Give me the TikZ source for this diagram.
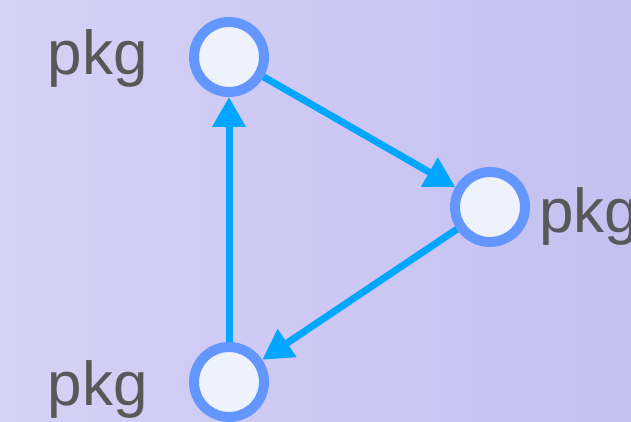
\documentclass[tikz,border=0pt]{standalone}
\usepackage{fontspec}
\setmainfont{Liberation Sans}
\definecolor{bg-light}{RGB}{214,209,246}
\definecolor{bg-dark}{RGB}{196,192,240}
\definecolor{ring-blue}{RGB}{100,150,255}
\definecolor{pale-fill}{RGB}{238,242,252}
\definecolor{flow-blue}{RGB}{0,166,255}
\definecolor{label-grey}{RGB}{88,88,88}
\usetikzlibrary{arrows.meta,positioning}

\begin{document}
\begin{tikzpicture}[x=1pt,y=-1pt,
    pkgnode/.style={circle,draw=ring-blue,fill=pale-fill,line width=10pt,minimum size=70pt,inner sep=0pt},
    pkglabel/.style={text=label-grey,font=\fontsize{62}{70}\selectfont,inner sep=0pt},
    flow/.style={draw=flow-blue,line width=7pt,-{Triangle[length=30pt,width=32pt]}}]
    \useasboundingbox (0,0) rectangle (631,422);
    \shade[left color=bg-light,right color=bg-dark] (0,0) rectangle (631,422);
    % packages
    \node[pkgnode] (pkgtop) at (229,57) {};
    \node[pkgnode] (pkgright) at (490,207) {};
    \node[pkgnode] (pkgbottom) at (229,382) {};
    % labels
    \node[pkglabel,anchor=base east] (labtop) at (148,75) {pkg};
    \node[pkglabel,anchor=base west] (labright) at (539,232) {pkg};
    \node[pkglabel,anchor=base east] (labbottom) at (148,405) {pkg};
    % cycle
    \draw[flow] (pkgtop) -- (pkgright);
    \draw[flow] (pkgright) -- (pkgbottom);
    \draw[flow] (pkgbottom) -- (pkgtop);
\end{tikzpicture}
\end{document}
